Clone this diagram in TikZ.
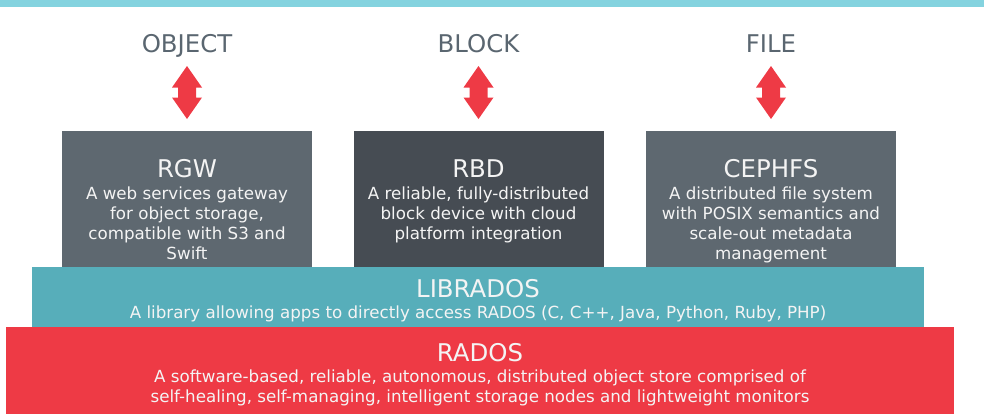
\documentclass[tikz,border=0pt]{standalone}
\usepackage{fontspec}
\setmainfont{DejaVu Sans}
\usepackage{xcolor}
\usepackage{tikz}
\usetikzlibrary{positioning}

\definecolor{cephtop}{HTML}{84D3DF}
\definecolor{cephlabel}{HTML}{5A6670}
\definecolor{cephred}{HTML}{EE3A45}
\definecolor{cephteal}{HTML}{57AEBA}
\definecolor{boxgrey}{HTML}{5E6870}
\definecolor{boxdark}{HTML}{464C53}
\definecolor{boxtext}{HTML}{F4F4F4}

\newcommand\titlesize{\fontsize{24.4}{24.4}\selectfont}
\newcommand\bodysize{\fontsize{16.7}{20}\selectfont}

\tikzset{
  toplabel/.style={font=\titlesize, text=cephlabel, inner sep=0pt, anchor=base},
  svcbox/.style={fill=#1, minimum width=250pt, minimum height=137pt, anchor=north, inner sep=0pt},
  layerbox/.style={fill=#1, inner sep=0pt},
  boxtitle/.style={font=\titlesize, text=boxtext, inner sep=0pt, anchor=base},
  boxbody/.style={font=\bodysize, text=boxtext, align=center, inner sep=0pt, anchor=north},
}

\begin{document}
\begin{tikzpicture}[x=1pt, y=-1pt]
        \useasboundingbox (0,0) rectangle (984,418);
        \fill[cephtop] (0,0) rectangle (984,7);

        % access types and their arrows
        \foreach \x/\lab/\name in {187/OBJECT/obj, 478.5/BLOCK/blk, 771/FILE/fil} {
            \node[toplabel] (\name) at (\x,52) {\lab};
            \fill[cephred, shift={(\x,92.5)}] (0,-26.5) -- (15,-5) -- (9,-5) -- (9,5) -- (15,5)
                -- (0,26.5) -- (-15,5) -- (-9,5) -- (-9,-5) -- (-15,-5) -- cycle;
        }

        \node[svcbox=boxgrey] (rgw) at (187,131) {};
        \node[svcbox=boxdark] (rbd) at (478.5,131) {};
        \node[svcbox=boxgrey] (cephfs) at (771,131) {};

        \node[boxtitle] (rgwtitle) at (187,177) {RGW};
        \node[boxbody] (rgwtext) at (187,186.5) {A web services gateway\\for object storage,\\compatible with S3 and\\Swift};
        \node[boxtitle] (rbdtitle) at (478.5,177) {RBD};
        \node[boxbody] (rbdtext) at (478.5,186.5) {A reliable, fully-distributed\\block device with cloud\\platform integration};
        \node[boxtitle] (cephfstitle) at (771,177) {CEPHFS};
        \node[boxbody] (cephfstext) at (771,186.5) {A distributed file system\\with POSIX semantics and\\scale-out metadata\\management};

        % library and object store layers
        \node[layerbox=cephteal, minimum width=892pt, minimum height=60pt] (librados) at (478,297) {};
        \node[boxtitle] (libradostitle) at (478,297) {LIBRADOS};
        \node[boxbody] (libradostext) at (478,305.5) {A library allowing apps to directly access RADOS (C, C++, Java, Python, Ruby, PHP)};

        \node[layerbox=cephred, minimum width=948pt, minimum height=87pt] (rados) at (480,370.5) {};
        \node[boxtitle] (radostitle) at (480,361) {RADOS};
        \node[boxbody] (radostext) at (480,369.5) {A software-based, reliable, autonomous, distributed object store comprised of\\self-healing, self-managing, intelligent storage nodes and lightweight monitors};
    \end{tikzpicture}
\end{document}
